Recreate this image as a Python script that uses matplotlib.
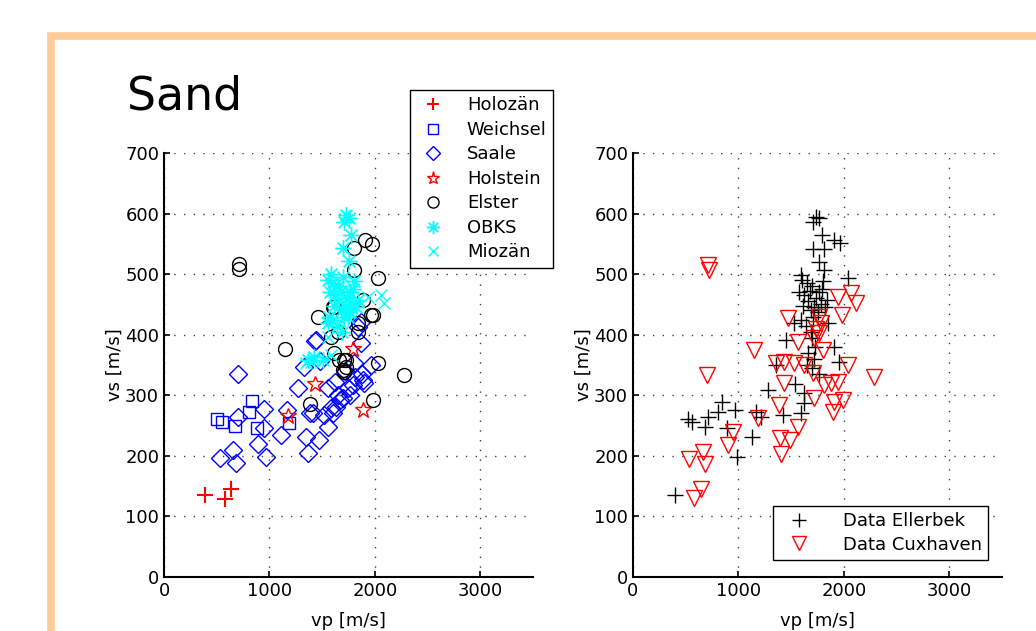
import matplotlib
matplotlib.use("Agg")
from matplotlib import pyplot as plt
from matplotlib.patches import Rectangle
from matplotlib.path import Path

# --- left panel data (vp, vs) ---
holozaen_vp = [390, 581, 638]
holozaen_vs = [135, 129, 145]

weichsel_vp = [505, 552, 676, 810, 838, 886, 1181]
weichsel_vs = [261, 256, 249, 272, 290, 246, 254]

saale_vp = [705, 705, 952, 533, 657, 686, 895, 971, 952, 1114, 1171, 1267, 1343, 1362,
            1429, 1476, 1324, 1552, 1619, 1667, 1581, 1790, 1886, 1867, 1838, 1962, 1800,
            1743, 1381, 1514, 1629, 1410, 1467, 1552, 1600, 1695, 1438, 1867, 1810, 1900,
            1720, 1760, 1880, 1650]
saale_vs = [335, 264, 277, 196, 210, 188, 219, 198, 246, 234, 276, 312, 231, 205,
            389, 356, 347, 312, 322, 292, 279, 317, 325, 386, 413, 350, 353,
            312, 271, 267, 281, 271, 226, 248, 271, 295, 391, 421, 330, 320,
            340, 300, 335, 300]

holstein_vp = [1180, 1430, 1790, 1890]
holstein_vs = [265, 318, 376, 276]

elster_vp = [714, 714, 1143, 1457, 1600, 1800, 1905, 1971, 1800, 2029, 1886, 1981, 2029,
             2276, 1581, 1648, 1705, 1724, 1705, 1838, 1381, 1981, 1610, 1962, 1657,
             1724, 1695, 1610, 1838]
elster_vs = [516, 509, 376, 429, 446, 543, 556, 550, 507, 493, 457, 432, 353,
             333, 396, 404, 358, 347, 338, 419, 285, 292, 446, 432, 358,
             358, 342, 370, 404]

obks_vp = [1724, 1705, 1752, 1771, 1695, 1752, 1581, 1552, 1600, 1650, 1700, 1760, 1800,
           1620, 1680, 1740, 1790, 1840, 1570, 1660, 1720, 1780, 1690, 1610, 1750, 1710,
           1552, 1362, 1419, 1505, 1743, 1562, 1743, 1640, 1690, 1590, 1820]
obks_vs = [597, 586, 592, 564, 543, 521, 500, 490, 485, 480, 495, 470, 488,
           465, 472, 460, 475, 458, 470, 455, 445, 450, 440, 448, 438, 430,
           419, 358, 363, 358, 429, 429, 441, 415, 405, 425, 445]

miozaen_vp = [2057, 2086, 1933, 1343, 1419, 1581, 1552, 1390]
miozaen_vs = [465, 452, 462, 353, 358, 366, 396, 355]

# --- right panel data (vp, vs) ---
ellerbek_vp = [1733, 1705, 1762, 1790, 1705, 1810, 1905, 1962, 1762, 1810, 2038, 1590,
               1600, 1650, 1700, 1760, 1800, 1620, 1680, 1740, 1790, 1840, 1570, 1660,
               1720, 1780, 1690, 1610, 1750, 1710, 1640, 1690, 1590, 1820, 1700, 1730,
               1448, 1524, 1848, 1905, 1952, 1352, 1276, 1533, 1619, 1619, 848, 810,
               714, 524, 562, 686, 971, 895, 990, 1171, 1210, 1133, 1419, 1590, 400,
               1660, 1720, 1700, 1760, 1650]
ellerbek_vs = [594, 586, 592, 564, 541, 541, 556, 551, 520, 507, 493, 498,
               490, 485, 480, 470, 488, 465, 472, 460, 475, 458, 470, 455,
               445, 450, 440, 448, 438, 430, 415, 405, 425, 445, 395, 380,
               391, 419, 419, 380, 355, 350, 309, 318, 304, 287, 289, 272,
               264, 261, 256, 248, 276, 246, 198, 272, 264, 231, 267, 271, 135,
               370, 360, 345, 335, 350]

cuxhaven_vp = [714, 724, 705, 1152, 1467, 1943, 2067, 2114, 1981, 1762, 1762, 1562, 1800,
               2038, 2286, 1352, 1429, 1524, 1619, 1705, 1429, 1810, 1876, 1943, 1381,
               1714, 1895, 1990, 1905, 1181, 952, 905, 533, 667, 686, 581, 648, 1390,
               1400, 1486, 1562, 1740, 1780, 1720]
cuxhaven_vs = [515, 507, 333, 375, 427, 462, 469, 452, 432, 429, 403, 388, 375,
               350, 330, 353, 355, 353, 350, 337, 320, 317, 320, 322, 284,
               295, 272, 292, 289, 262, 239, 218, 195, 206, 186, 130, 145, 229,
               203, 226, 248, 410, 420, 395]

# matlab style asterisk: plus and cross on top of each other
d = 0.7071
asterisk = Path([(-1, 0), (1, 0), (0, -1), (0, 1), (-d, -d), (d, d), (-d, d), (d, -d)],
                [Path.MOVETO, Path.LINETO] * 4)

fig = plt.figure(figsize=(10.36, 6.31), dpi=100)

# orange frame
fig.patches.append(Rectangle((51 / 1036, -0.1), 1.2, (631 - 36) / 631 + 0.1,
                             transform=fig.transFigure, fill=False,
                             edgecolor='#FFCC99', lw=5.5, zorder=0))

fig.text(127 / 1036, 1 - 97 / 631, 'Sand', fontsize=33, va='center', ha='left')

ms = dict(linestyle='none', markerfacecolor='none')


def style_axes(ax):
    ax.set_xlim(0, 3500)
    ax.set_ylim(0, 700)
    ax.set_xticks([0, 1000, 2000, 3000])
    ax.set_yticks(range(0, 701, 100))
    ax.spines['top'].set_visible(False)
    ax.spines['right'].set_visible(False)
    ax.spines['left'].set_linewidth(1.5)
    ax.spines['bottom'].set_linewidth(1.5)
    ax.tick_params(direction='in', length=4, width=1.2, labelsize=13)
    ax.grid(True, linestyle=(0, (1, 6)), color='0.25', linewidth=1.0)
    ax.set_axisbelow(True)
    ax.set_xlabel('vp [m/s]', fontsize=13, labelpad=9)
    ax.set_ylabel('vs [m/s]', fontsize=13, labelpad=1)


leg_kw = dict(bbox_transform=fig.transFigure, fontsize=13, fancybox=False,
              framealpha=1, edgecolor='black', borderpad=0.35, borderaxespad=0,
              markerscale=0.8)

ax1 = fig.add_axes([164 / 1036, 54 / 631, 369 / 1036, 424 / 631])
ax1.plot(holozaen_vp, holozaen_vs, '+', color='red', ms=11, mew=1.5, label='Holozän', **ms)
ax1.plot(weichsel_vp, weichsel_vs, 's', color='blue', ms=9, mew=1.0, label='Weichsel', **ms)
ax1.plot(saale_vp, saale_vs, 'D', color='blue', ms=9, mew=1.0, label='Saale', **ms)
ax1.plot(holstein_vp, holstein_vs, '*', color='red', ms=12, mew=1.0, label='Holstein', **ms)
ax1.plot(elster_vp, elster_vs, 'o', color='black', ms=10, mew=1.0, label='Elster', **ms)
ax1.plot(obks_vp, obks_vs, marker=asterisk, color='cyan', ms=12, mew=1.3, label='OBKS', **ms)
ax1.plot(miozaen_vp, miozaen_vs, 'x', color='cyan', ms=9, mew=1.0, label='Miozän', **ms)
style_axes(ax1)
leg1 = ax1.legend(loc='upper left', bbox_to_anchor=(410 / 1036, 1 - 90 / 631),
                  labelspacing=0.36, handletextpad=0.9, handlelength=1.9, **leg_kw)
leg1.get_frame().set_linewidth(1.0)

ax2 = fig.add_axes([633 / 1036, 54 / 631, 369 / 1036, 424 / 631])
ax2.plot(ellerbek_vp, ellerbek_vs, '+', color='black', ms=12, mew=1.0, label='Data Ellerbek', **ms)
ax2.plot(cuxhaven_vp, cuxhaven_vs, 'v', color='red', ms=12, mew=1.0, label='Data Cuxhaven', **ms)
style_axes(ax2)
leg2 = ax2.legend(loc='lower right', bbox_to_anchor=(988 / 1036, 1 - 560 / 631),
                  labelspacing=0.3, handletextpad=1.3, handlelength=2.2, **leg_kw)
leg2.get_frame().set_linewidth(1.0)

fig.savefig('out.png', dpi=100)
